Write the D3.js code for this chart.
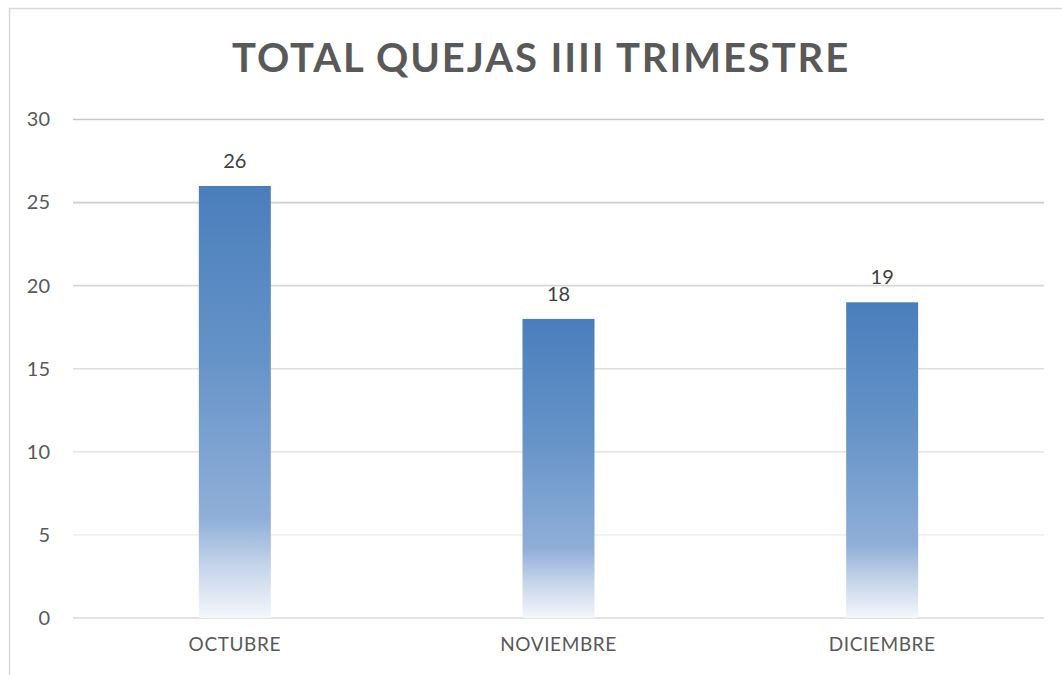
<!DOCTYPE html>
<html>
<head>
<meta charset="utf-8">
<script src="https://cdn.jsdelivr.net/npm/d3@7"></script>
<style>
  body { margin: 0; background: #fff; }
  text { font-family: Lato, "Open Sans", sans-serif; }
</style>
</head>
<body>
<div class="chart"></div>
<script>
var months = ["OCTUBRE", "NOVIEMBRE", "DICIEMBRE"];
var quejas = [26, 18, 19];
var yTicks = [0, 5, 10, 15, 20, 25, 30];
var titulo = "TOTAL QUEJAS IIII TRIMESTRE";

var width = 1062,
    height = 675;

var svg = d3.select(".chart").append("svg")
    .attr("width", width)
    .attr("height", height);

// gradient for the bars, relative to each bar
var grad = svg.append("defs").append("linearGradient")
    .attr("id", "barFill")
    .attr("x1", 0).attr("y1", 0)
    .attr("x2", 0).attr("y2", 1);
grad.append("stop").attr("offset", "0%").attr("stop-color", "#4a7ebb");
grad.append("stop").attr("offset", "40%").attr("stop-color", "#6593c8");
grad.append("stop").attr("offset", "77%").attr("stop-color", "#90afd8");
grad.append("stop").attr("offset", "88%").attr("stop-color", "#c5d4ea");
grad.append("stop").attr("offset", "100%").attr("stop-color", "#f4f7fb");

// outer frame
svg.append("rect")
    .attr("x", 9.5).attr("y", 8.5)
    .attr("width", width + 20).attr("height", height + 20)
    .attr("fill", "none")
    .attr("stroke", "#d9d9d9")
    .attr("stroke-width", 1.5);

var x = d3.scaleBand()
    .domain(months)
    .range([73, 1044])
    .paddingInner(0.7776)
    .paddingOuter(0.3888);

var y = d3.scaleLinear()
    .domain([0, 30])
    .range([618, 119.5]);

// gridlines get lighter towards the bottom, base line darker
var gridColor = d3.scaleLinear()
    .domain([5, 15, 30])
    .range(["#f1f1f1", "#dfdfdf", "#c6c6c6"]);

svg.append("g")
    .attr("class", "grid")
    .selectAll("line")
    .data(yTicks)
    .enter()
    .append("line")
    .attr("x1", 73)
    .attr("x2", 1044)
    .attr("y1", function(d){ return y(d); })
    .attr("y2", function(d){ return y(d); })
    .attr("stroke", function(d){ return d === 0 ? "#d9d9d9" : gridColor(d); })
    .attr("stroke-width", 1.6);

var yAxis = svg.append("g")
    .attr("transform", "translate(56,0)")
    .call(d3.axisLeft(y).tickValues(yTicks).tickSize(0).tickPadding(6));
yAxis.select(".domain").remove();
yAxis.selectAll("text")
    .attr("fill", "#595959")
    .style("font-size", "20px")
    .style("font-family", "Lato, 'Open Sans', sans-serif");

var xAxis = svg.append("g")
    .attr("transform", "translate(0,618)")
    .call(d3.axisBottom(x).tickSize(0).tickPadding(20));
xAxis.select(".domain").remove();
xAxis.selectAll("text")
    .attr("fill", "#595959")
    .style("font-size", "19px")
    .style("letter-spacing", "0.6px")
    .style("font-family", "Lato, 'Open Sans', sans-serif");

svg.append("g")
    .selectAll("rect")
    .data(quejas)
    .enter()
    .append("rect")
    .attr("x", function(d, i){ return x(months[i]); })
    .attr("y", function(d){ return y(d); })
    .attr("width", x.bandwidth())
    .attr("height", function(d){ return y(0) - y(d); })
    .attr("fill", "url(#barFill)");

svg.append("g")
    .selectAll("text")
    .data(quejas)
    .enter()
    .append("text")
    .attr("x", function(d, i){ return x(months[i]) + x.bandwidth() / 2; })
    .attr("y", function(d){ return y(d) - 18; })
    .attr("text-anchor", "middle")
    .attr("fill", "#404040")
    .style("font-size", "20px")
    .text(function(d){ return d; });

svg.append("text")
    .attr("x", 541)
    .attr("y", 72)
    .attr("text-anchor", "middle")
    .attr("fill", "#595959")
    .style("font-size", "40px")
    .style("font-weight", "bold")
    .style("letter-spacing", "1.9px")
    .text(titulo);
</script>
</body>
</html>
